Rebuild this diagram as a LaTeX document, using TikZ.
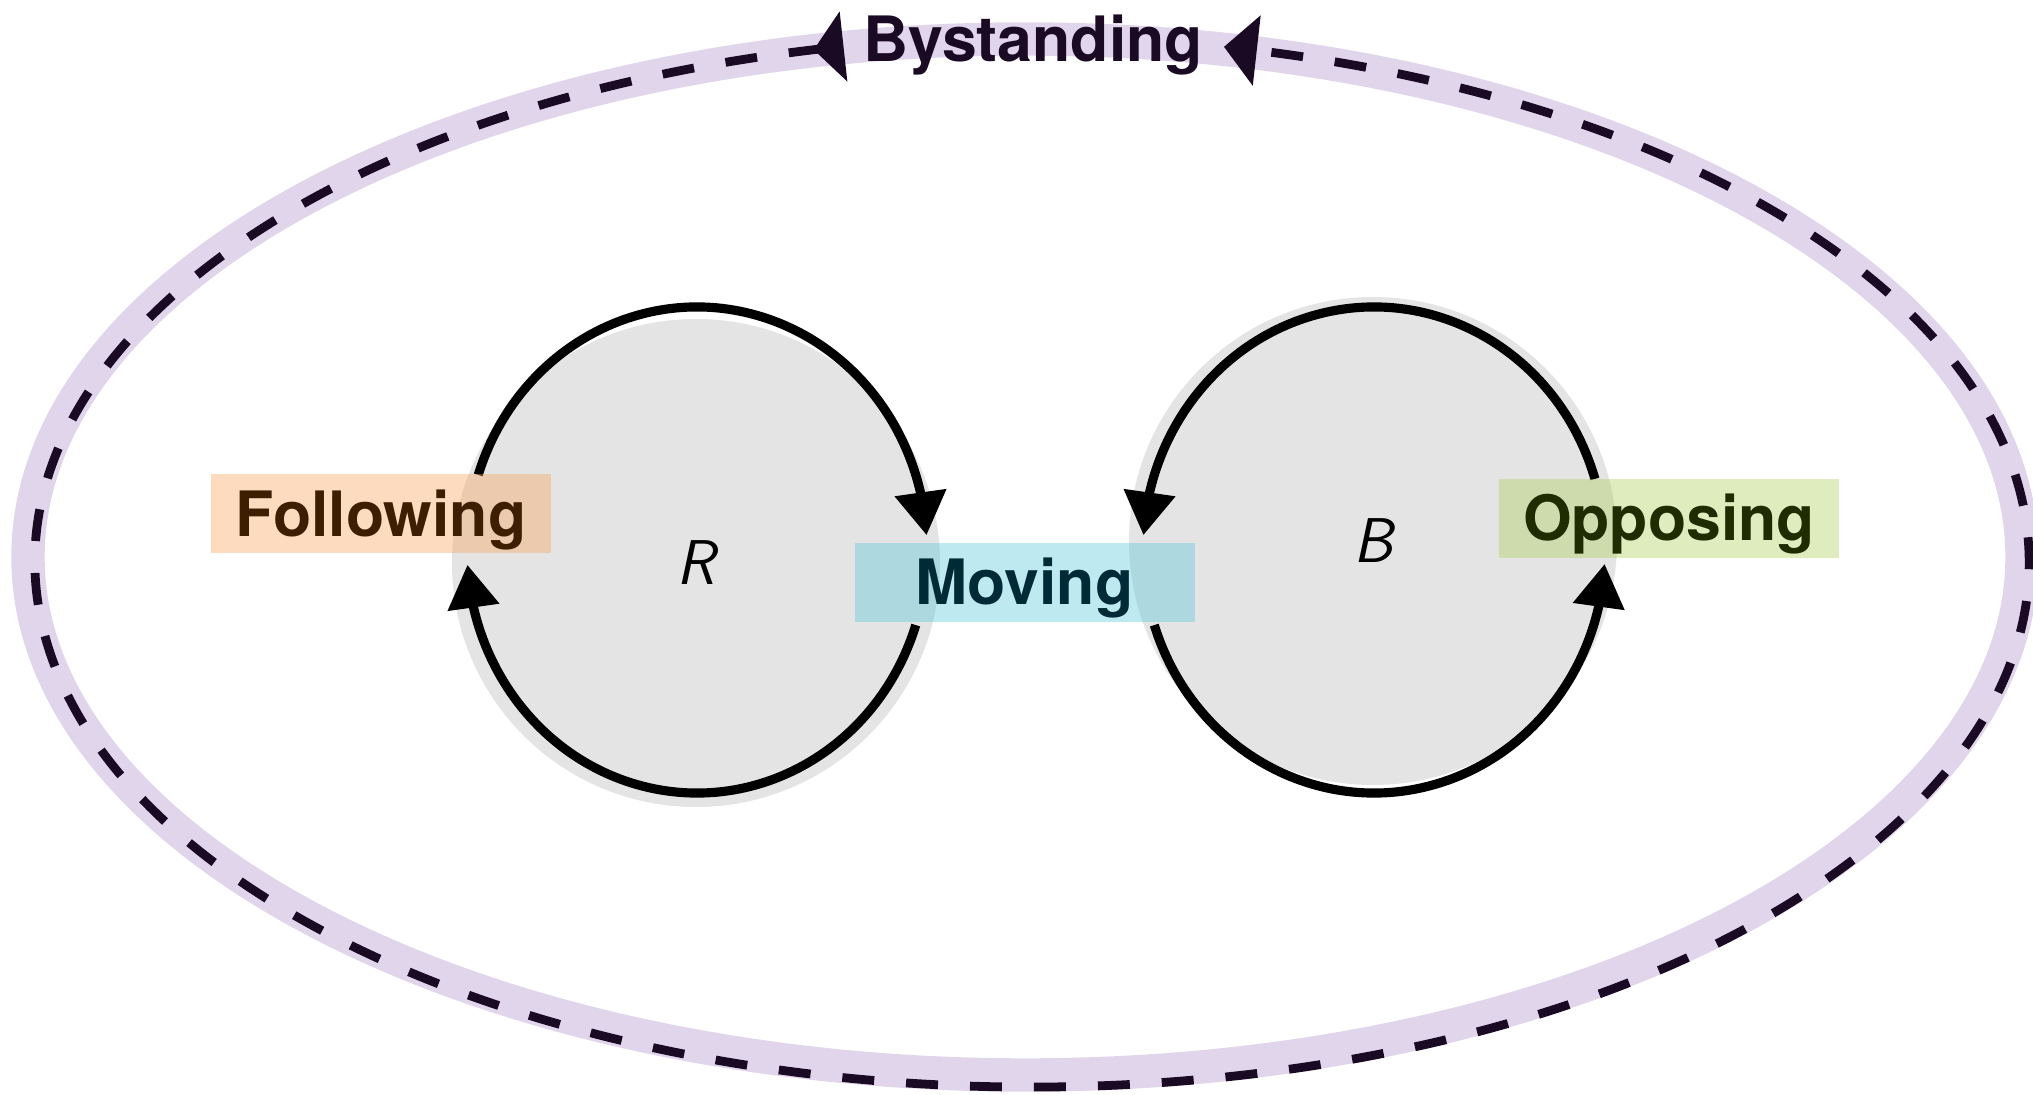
\documentclass[tikz,border=0pt]{standalone}
\usepackage{fontspec}
\setmainfont{TeX Gyre Heros}
\usetikzlibrary{arrows.meta,bending,positioning}

\definecolor{haze}{RGB}{225,213,235}
\definecolor{plum}{RGB}{26,10,36}
\definecolor{disc}{RGB}{228,228,228}
\definecolor{peach}{RGB}{250,165,92}
\definecolor{sky}{RGB}{92,200,220}
\definecolor{lime}{RGB}{172,207,92}
\definecolor{peachtext}{RGB}{62,30,0}
\definecolor{skytext}{RGB}{0,42,54}
\definecolor{limetext}{RGB}{30,45,0}

\tikzset{agentdisc/.style={
    circle,minimum size=4.88cm,inner sep=0pt,
    fill=disc,
    font=\fontsize{18}{20}\selectfont\sffamily\itshape}
}
\tikzset{modebox/.style={
    rectangle,minimum width=3.4cm,minimum height=0.79cm,inner sep=0pt,
    text height=12.6pt,text depth=0pt,
    fill opacity=0.4,text opacity=1,
    font=\fontsize{17.8}{20}\selectfont\bfseries}
}
\tikzset{turn/.style={line width=2.6pt,-{Triangle[flex,length=4.3mm,width=5mm]}},
  haloring/.style={draw=haze,line width=9.5pt},
  dashring/.style={draw=plum,line width=2.5pt,dash pattern=on 9.1pt off 9.1pt,
    {Triangle[reversed,length=3mm,width=6.9mm]}-{Triangle[length=3.3mm,width=6.9mm]}},
}

\begin{document}
\begin{tikzpicture}
  \useasboundingbox (0,0) rectangle (20.33,10.94);
  % centres of the two rings and of the outer orbit
  \coordinate (Rring) at (6.97,5.44);
  \coordinate (Bring) at (13.74,5.44);
  \coordinate (halo) at (10.25,5.37);
  \coordinate (orbit) at (10.32,5.32);

  % outer orbit
  \draw[haloring] (halo) ellipse [x radius=9.97,y radius=5.18];
  \draw[dashring] (orbit) ++(100.9:9.97 and 5.25)
    arc[start angle=100.9,end angle=438.9,x radius=9.97,y radius=5.25];
  \node (bystand) [anchor=base,text=plum,font=\fontsize{17.8}{20}\selectfont\bfseries]
    at (10.33,10.32) {Bystanding};

  % the two agents
  \node (R) [agentdisc] at (6.96,5.31) {R};
  \node (B) [agentdisc] at (13.73,5.53) {B};

  % turning arcs round R
  \draw[turn] (Rring) ++(162:2.30 and 2.43)
    arc[start angle=162,end angle=3.5,x radius=2.30,y radius=2.43];
  \draw[turn] (Rring) ++(-18:2.30 and 2.43)
    arc[start angle=-18,end angle=-176.5,x radius=2.30,y radius=2.43];
  % turning arcs round B
  \draw[turn] (Bring) ++(17:2.31 and 2.43)
    arc[start angle=17,end angle=176.5,x radius=2.31,y radius=2.43];
  \draw[turn] (Bring) ++(198:2.31 and 2.43)
    arc[start angle=198,end angle=356.7,x radius=2.31,y radius=2.43];

  % modes
  \node (follow) [modebox,fill=peach,text=peachtext] at (3.81,5.80) {Following};
  \node (move) [modebox,fill=sky,text=skytext] at (10.245,5.115) {Moving};
  \node (oppose) [modebox,fill=lime,text=limetext] at (16.69,5.755) {Opposing};
\end{tikzpicture}
\end{document}
